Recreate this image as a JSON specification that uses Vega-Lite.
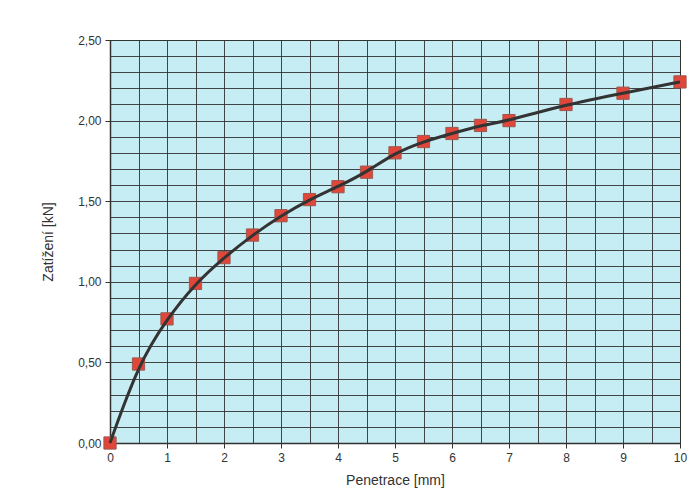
{
  "$schema": "https://vega.github.io/schema/vega-lite/v6.json",
  "width": 570,
  "height": 403,
  "autosize": {"type": "none"},
  "padding": {"left": 110, "top": 40, "right": 20, "bottom": 61},
  "background": "white",
  "config": {
    "font": "Liberation Sans",
    "view": {"fill": "#c6ecf4", "stroke": "#333333", "strokeWidth": 1}
  },
  "data": {
    "values": [
      {"x": 0, "y": 0},
      {"x": 0.5, "y": 0.49},
      {"x": 1, "y": 0.77},
      {"x": 1.5, "y": 0.99},
      {"x": 2, "y": 1.15},
      {"x": 2.5, "y": 1.29},
      {"x": 3, "y": 1.41},
      {"x": 3.5, "y": 1.51},
      {"x": 4, "y": 1.59},
      {"x": 4.5, "y": 1.68},
      {"x": 5, "y": 1.80},
      {"x": 5.5, "y": 1.87},
      {"x": 6, "y": 1.92},
      {"x": 6.5, "y": 1.97},
      {"x": 7, "y": 2.00},
      {"x": 8, "y": 2.10},
      {"x": 9, "y": 2.17},
      {"x": 10, "y": 2.24}
    ]
  },
  "encoding": {
    "x": {
      "field": "x", "type": "quantitative",
      "scale": {"domain": [0, 10], "nice": false},
      "axis": {
        "title": "Penetrace [mm]",
        "titleFontSize": 14, "titleFontWeight": "normal", "titleColor": "#333", "titlePadding": 10,
        "values": [0,0.5,1,1.5,2,2.5,3,3.5,4,4.5,5,5.5,6,6.5,7,7.5,8,8.5,9,9.5,10],
        "labelExpr": "datum.value % 1 === 0 ? format(datum.value, 'd') : ''",
        "labelFlush": false,
        "labelFontSize": 12, "labelColor": "#333", "labelPadding": 4,
        "tickSize": 5, "tickColor": "#333",
        "tickOpacity": {"condition": {"test": "datum.value % 1 === 0", "value": 1}, "value": 0},
        "grid": true, "gridColor": "#333333", "gridOpacity": 0.9, "gridWidth": 1,
        "domainColor": "#333", "domainWidth": 1.5
      }
    },
    "y": {
      "field": "y", "type": "quantitative",
      "scale": {"domain": [0, 2.5], "nice": false},
      "axis": {
        "title": "Zatížení [kN]",
        "titleFontSize": 14, "titleFontWeight": "normal", "titleColor": "#333", "titlePadding": 22,
        "values": [0,0.1,0.2,0.3,0.4,0.5,0.6,0.7,0.8,0.9,1,1.1,1.2,1.3,1.4,1.5,1.6,1.7,1.8,1.9,2,2.1,2.2,2.3,2.4,2.5],
        "labelExpr": "round(datum.value*10) % 5 === 0 ? replace(format(datum.value, '.2f'), '.', ',') : ''",
        "labelFlush": false,
        "labelFontSize": 12, "labelColor": "#333", "labelPadding": 4,
        "tickSize": 5, "tickColor": "#333",
        "tickOpacity": {"condition": {"test": "round(datum.value*10) % 5 === 0", "value": 1}, "value": 0},
        "grid": true, "gridColor": "#333333", "gridOpacity": 0.9, "gridWidth": 1,
        "domainColor": "#333", "domainWidth": 1.5
      }
    }
  },
  "layer": [
    {
      "mark": {"type": "square", "size": 150, "filled": true, "color": "#e0463a", "stroke": "#9a5a50", "strokeWidth": 1, "opacity": 1}
    },
    {
      "mark": {"type": "line", "interpolate": "basis", "color": "#333333", "strokeWidth": 3}
    }
  ]
}
